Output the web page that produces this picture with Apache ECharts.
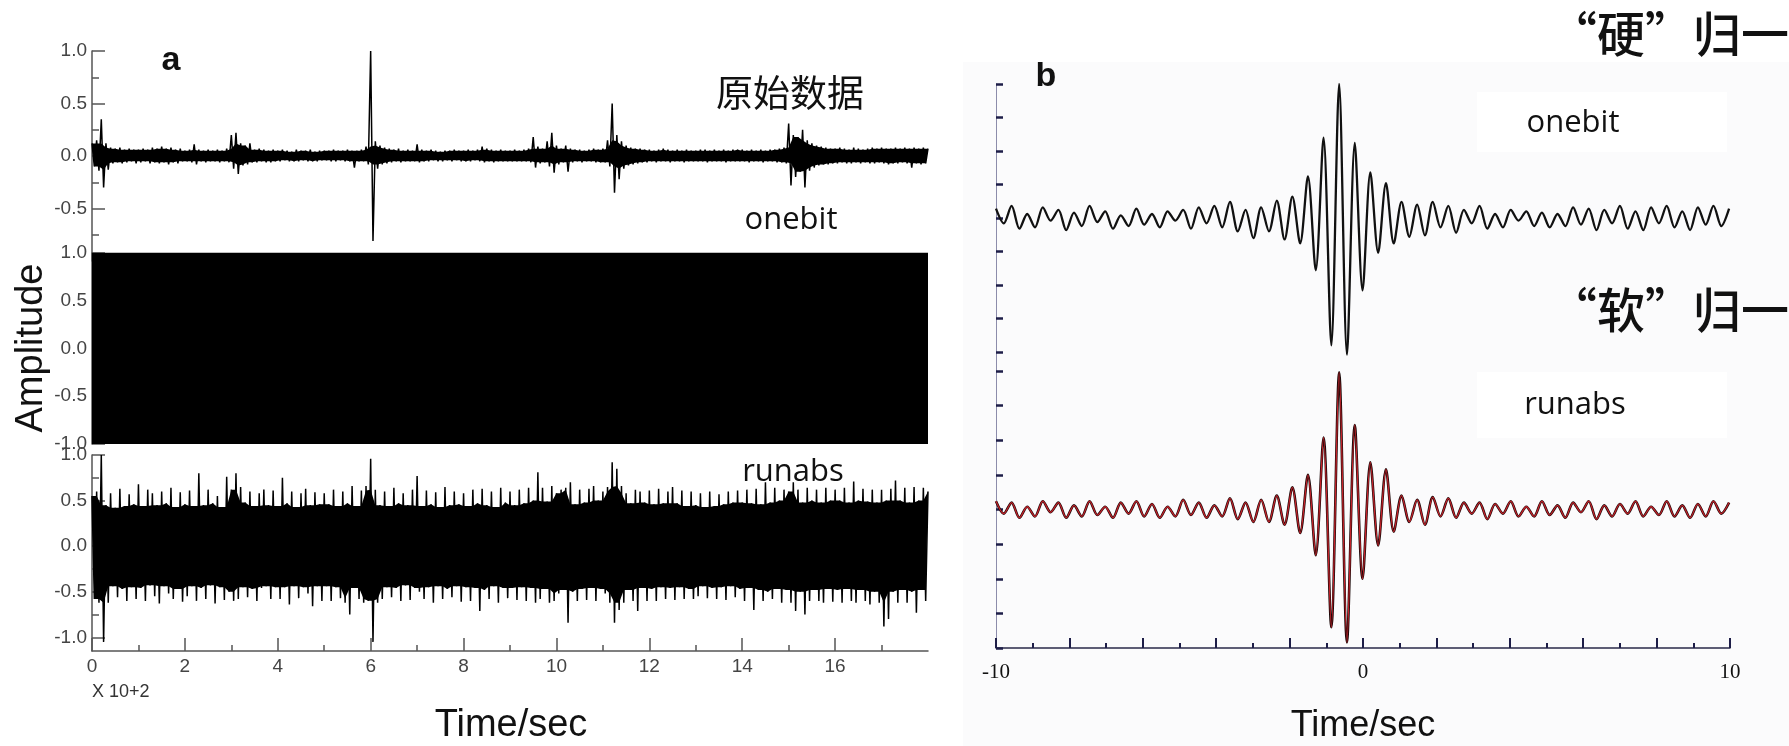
<!DOCTYPE html>
<html><head><meta charset="utf-8">
<script src="https://cdn.jsdelivr.net/npm/echarts@6/dist/echarts.min.js"></script>
<style>html,body{margin:0;padding:0;background:#fff}#c{width:1789px;height:746px}</style>
</head><body><div id="c"></div>
<script>
// ---------- Panel a : time in units of 100 s ("X 10+2"), one value per 5 s, alternating upper / lower excursion ----------
const aStep = 0.05;
const rawData = [
 .12,-.10,.15,-.14,.35,-.30,.12,-.13,.08,-.07,.07,-.06,.08,-.07,.06,-.06,.07,-.05,.06,-.07,
 .06,-.06,.07,-.05,.06,-.07,.08,-.06,.07,-.07,.09,-.06,.07,-.08,.08,-.06,.06,-.07,.07,-.05,
 .05,-.05,.06,-.06,.11,-.08,.06,-.05,.05,-.06,.06,-.05,.05,-.05,.06,-.06,.05,-.05,.07,-.06,
 .20,-.12,.22,-.17,.12,-.09,.10,-.08,.12,-.06,.06,-.06,.07,-.05,.06,-.06,.05,-.06,.06,-.05,
 .05,-.05,.06,-.04,.05,-.05,.04,-.05,.06,-.05,.05,-.04,.05,-.05,.06,-.05,.04,-.05,.05,-.04,
 .05,-.04,.05,-.05,.06,-.05,.05,-.04,.05,-.05,.06,-.05,.05,-.11,.05,-.05,.06,-.05,.09,-.08,
 1.0,-.81,.14,-.12,.10,-.08,.08,-.07,.07,-.06,.06,-.05,.07,-.06,.05,-.05,.06,-.05,.05,-.05,
 .11,-.06,.06,-.05,.05,-.05,.06,-.04,.05,-.05,.04,-.05,.05,-.04,.05,-.05,.06,-.04,.05,-.05,
 .05,-.05,.06,-.05,.05,-.04,.06,-.05,.09,-.06,.07,-.05,.06,-.06,.05,-.05,.06,-.05,.05,-.05,
 .05,-.05,.06,-.05,.05,-.05,.06,-.05,.07,-.06,.18,-.11,.09,-.07,.07,-.06,.14,-.10,.22,-.16,
 .10,-.08,.07,-.06,.10,-.15,.07,-.06,.06,-.05,.06,-.06,.05,-.05,.06,-.05,.07,-.06,.06,-.06,
 .07,-.06,.15,-.10,.50,-.35,.20,-.22,.14,-.12,.10,-.09,.08,-.08,.07,-.07,.07,-.06,.06,-.06,
 .06,-.05,.05,-.06,.06,-.05,.07,-.05,.06,-.06,.05,-.05,.06,-.05,.05,-.06,.06,-.05,.05,-.05,
 .05,-.05,.06,-.05,.06,-.06,.05,-.05,.06,-.05,.05,-.05,.06,-.06,.05,-.05,.06,-.05,.06,-.05,
 .06,-.05,.05,-.06,.06,-.05,.05,-.05,.06,-.06,.05,-.05,.06,-.05,.06,-.06,.07,-.06,.08,-.07,
 .31,-.28,.20,-.20,.18,-.15,.25,-.30,.15,-.14,.12,-.11,.10,-.09,.09,-.08,.08,-.08,.07,-.07,
 .07,-.07,.08,-.06,.07,-.07,.06,-.07,.08,-.06,.07,-.07,.06,-.06,.07,-.07,.08,-.07,.07,-.06,
 .08,-.07,.07,-.08,.07,-.07,.08,-.07,.07,-.06,.08,-.07,.07,-.11,.08,-.07,.07,-.08,.08,-.07,.07
];
const onebitTimes = [0, 18];
const onebitLevel = [1, 1];
const runabsData = [
 .55,-.58,.60,-.62,1.0,-1.05,.45,-.62,.58,-.44,.42,-.56,.63,-.47,.44,-.60,.57,-.45,.46,-.58,
 .68,-.46,.44,-.60,.62,-.43,.58,-.55,.45,-.63,.60,-.44,.47,-.52,.64,-.58,.43,-.47,.59,-.61,
 .46,-.55,.61,-.44,.44,-.60,.80,-.46,.45,-.58,.62,-.43,.47,-.63,.55,-.45,.43,-.59,.76,-.50,
 .62,-.60,.80,-.58,.65,-.45,.48,-.56,.60,-.47,.44,-.60,.58,-.46,.62,-.44,.45,-.58,.61,-.45,
 .44,-.58,.75,-.45,.47,-.64,.60,-.44,.43,-.57,.58,-.45,.63,-.52,.45,-.66,.59,-.44,.46,-.60,
 .58,-.44,.46,-.60,.62,-.45,.44,-.57,.60,-.62,.47,-.75,.66,-.46,.44,-.58,.61,-.62,.66,-.60,
 .96,-1.05,.62,-.62,.45,-.58,.60,-.45,.44,-.56,.64,-.46,.47,-.60,.58,-.43,.45,-.59,.62,-.46,
 .77,-.50,.44,-.58,.61,-.45,.46,-.62,.59,-.44,.43,-.58,.65,-.47,.45,-.56,.60,-.44,.46,-.61,
 .58,-.45,.44,-.60,.62,-.46,.47,-.71,.63,-.48,.45,-.58,.60,-.44,.43,-.62,.64,-.46,.48,-.57,
 .60,-.46,.45,-.59,.62,-.45,.47,-.60,.64,-.46,.50,-.62,.81,-.58,.64,-.47,.49,-.62,.66,-.60,
 .58,-.52,.62,-.48,.64,-.84,.70,-.50,.46,-.60,.62,-.47,.48,-.59,.63,-.46,.66,-.60,.50,-.47,
 .60,-.52,.65,-.62,.92,-.84,.85,-.70,.66,-.62,.58,-.48,.47,-.60,.62,-.71,.60,-.46,.48,-.60,
 .61,-.47,.46,-.60,.63,-.45,.47,-.58,.60,-.46,.65,-.59,.47,-.45,.61,-.58,.44,-.47,.60,-.58,
 .45,-.55,.58,-.44,.43,-.57,.60,-.46,.44,-.58,.57,-.45,.46,-.59,.60,-.44,.48,-.56,.61,-.47,
 .48,-.60,.62,-.46,.47,-.70,.63,-.48,.46,-.60,.70,-.50,.48,-.58,.64,-.47,.50,-.62,.62,-.48,
 .60,-.62,.70,-.71,.62,-.50,.48,-.75,.64,-.60,.50,-.48,.62,-.60,.48,-.62,.64,-.47,.50,-.61,
 .62,-.48,.50,-.62,.64,-.47,.48,-.60,.71,-.62,.50,-.48,.63,-.60,.49,-.64,.62,-.50,.48,-.62,
 .62,-.88,.50,-.80,.63,-.50,.72,-.62,.50,-.48,.64,-.62,.48,-.50,.65,-.73,.50,-.48,.64,-.60,.60
];
const aYMajor = [-1, -0.5, 0, 0.5, 1];
const aYMinor = [-0.75, -0.25, 0.25, 0.75];
const aTopLabels = [-0.5, 0, 0.5, 1];
const aXMajor = [0, 2, 4, 6, 8, 10, 12, 14, 16];
const aXMinor = [1, 3, 5, 7, 9, 11, 13, 15, 17];

// ---------- Panel b : lag time in s, one value per 0.2125 s (successive peaks / troughs) ----------
const bStart = -10, bStep = 0.2125;
const bOnebit = [
 .07,-.04,.09,-.08,.03,-.07,.08,-.02,.06,-.09,
 .04,-.06,.09,-.03,.05,-.08,.02,-.06,.07,-.05,
 .03,-.07,.05,-.02,.06,-.08,.08,-.04,.09,-.07,
 .12,-.10,.06,-.15,
 .08,-.10,.13,-.16,.16,-.19,.31,-.39,.60,-.95,1.0,-1.02,.56,-.54,.34,-.26,.26,-.19,.12,-.14,.10,
 -.13,.12,-.07,.09,-.11,.06,
 -.04,.09,-.08,.03,-.07,.06,-.02,.05,-.06,.04,
 -.07,.03,-.06,.08,-.05,.07,-.09,.06,-.04,.09,
 -.08,.05,-.09,.08,-.04,.09,-.07,.05,-.09,.08,-.05,.09,-.06,.07
];
const bRunabs = [
 .06,-.03,.05,-.06,.02,-.05,.06,-.02,.05,-.06,
 .03,-.05,.06,-.04,.02,-.06,.05,-.03,.06,-.05,
 .04,-.06,.02,-.05,.07,-.04,.05,-.06,.03,-.05,
 .08,-.07,.05,-.09,
 .07,-.09,.10,-.11,.16,-.17,.25,-.33,.52,-.85,.99,-.96,.61,-.50,.34,-.26,.29,-.16,.10,-.09,.07,
 -.11,.09,-.05,.08,-.06,.05,
 -.03,.05,-.07,.04,-.03,.06,-.05,.02,-.05,.06,
 -.04,.03,-.06,.05,-.02,.06,-.07,.03,-.05,.04,
 -.03,.06,-.05,.02,-.04,.06,-.05,.03,-.06,.04,
 -.05,.06,-.03,.05
];
const bYTicks = [-1, -0.75, -0.5, -0.25, 0, 0.25, 0.5, 0.75, 1];
const bXMajor = [-10, -8, -6, -4, -2, 0, 2, 4, 6, 8, 10];
const bXMinor = [-9, -7, -5, -3, -1, 1, 3, 5, 7, 9];
const bXLabels = [-10, 0, 10];

// ---------- chart ----------
const SANS = 'Liberation Sans';
const aGray = '#555';
function aYMajorAxis(g, min, max, labels) {
  return {type:'value', gridIndex:g, min:min, max:max, position:'left',
    axisLine:{show:true, onZero:false, lineStyle:{color:aGray, width:1.5}},
    axisTick:{show:true, inside:true, length:13, customValues:aYMajor, lineStyle:{color:aGray, width:1.5}},
    axisLabel:{show:true, customValues:labels, formatter:v=>Number(v).toFixed(1), color:'#444', fontSize:19, fontFamily:SANS, margin:5},
    splitLine:{show:false}};
}
function aYMinorAxis(g, min, max) {
  return {type:'value', gridIndex:g, min:min, max:max, position:'left',
    axisLine:{show:false, onZero:false}, axisLabel:{show:false}, splitLine:{show:false},
    axisTick:{show:true, inside:true, length:7, customValues:aYMinor, lineStyle:{color:aGray, width:1.5}}};
}
function hiddenX(g, min, max) {
  return {type:'value', gridIndex:g, min:min, max:max, show:false, axisLine:{onZero:false}};
}
const bTickColor = '#1e1e48';
function bYAxis(g, min, max) {
  return {type:'value', gridIndex:g, min:min, max:max, position:'left',
    axisLine:{show:true, onZero:false, lineStyle:{color:'#8c8cab', width:1}},
    axisTick:{show:true, inside:true, length:7, customValues:bYTicks, lineStyle:{color:bTickColor, width:2.5}},
    axisLabel:{show:false}, splitLine:{show:false}};
}
// solid core of a dense trace: polygon through the upper (even) and lower (odd) excursions,
// each limited to the smallest excursion of its neighbours so that isolated spikes stay thin lines
function coreSeries(values, xi, yi) {
  return {type:'custom', xAxisIndex:xi, yAxisIndex:yi, coordinateSystem:'cartesian2d', silent:true, clip:true,
    data:[[0, 0]],
    renderItem:function(params, api) {
      const up = [], lo = [];
      values.forEach((v, i) => {
        const a = values[i-2] !== undefined ? values[i-2] : v;
        const b = values[i+2] !== undefined ? values[i+2] : v;
        const core = i % 2 === 0 ? Math.min(a, v, b) : Math.max(a, v, b);
        const p = api.coord([i*aStep, core]);
        (i % 2 === 0 ? up : lo).push(p);
      });
      return {type:'polygon', shape:{points:up.concat(lo.reverse())}, style:{fill:'#000'}};
    }};
}

const option = {
  animation:false,
  backgroundColor:'#fff',
  grid:[
    {left:92, top:51, width:836, height:210},
    {left:92, top:253, width:836, height:191},
    {left:92, top:455, width:836, height:196},
    {left:996, top:84, width:734, height:301.5},
    {left:996, top:371, width:734, height:277}
  ],
  xAxis:[
    hiddenX(0, 0, 18),
    hiddenX(1, 0, 18),
    {type:'value', gridIndex:2, min:0, max:18, position:'bottom',
      axisLine:{show:true, onZero:false, lineStyle:{color:aGray, width:1.5}},
      axisTick:{show:true, inside:true, length:13, customValues:aXMajor, lineStyle:{color:aGray, width:1.5}},
      axisLabel:{show:true, customValues:aXMajor, color:'#444', fontSize:19, fontFamily:SANS, margin:6},
      splitLine:{show:false}},
    {type:'value', gridIndex:2, min:0, max:18, position:'bottom',
      axisLine:{show:false, onZero:false}, axisLabel:{show:false}, splitLine:{show:false},
      axisTick:{show:true, inside:true, length:6, customValues:aXMinor, lineStyle:{color:aGray, width:1.5}}},
    hiddenX(3, -10, 10),
    {type:'value', gridIndex:4, min:-10, max:10, position:'bottom',
      axisLine:{show:true, onZero:false, lineStyle:{color:'#2a2a48', width:1.5}},
      axisTick:{show:true, inside:true, length:10, customValues:bXMajor, lineStyle:{color:bTickColor, width:2}},
      axisLabel:{show:true, customValues:bXLabels, formatter:v=>String(v), color:'#111', fontSize:21, fontFamily:'Liberation Serif', margin:14},
      splitLine:{show:false}},
    {type:'value', gridIndex:4, min:-10, max:10, position:'bottom',
      axisLine:{show:false, onZero:false}, axisLabel:{show:false}, splitLine:{show:false},
      axisTick:{show:true, inside:true, length:5, customValues:bXMinor, lineStyle:{color:bTickColor, width:2}}}
  ],
  yAxis:[
    aYMajorAxis(0, -1, 1, aTopLabels),
    aYMinorAxis(0, -1, 1),
    aYMajorAxis(1, -1, 1, aYMajor),
    aYMinorAxis(1, -1, 1),
    aYMajorAxis(2, -1.15, 1, aYMajor),
    aYMinorAxis(2, -1.15, 1),
    bYAxis(3, -1.25, 1),
    bYAxis(4, -1, 1)
  ],
  series:[
    coreSeries(rawData, 0, 0),
    {name:'原始数据', type:'line', xAxisIndex:0, yAxisIndex:0, symbol:'none',
      data:rawData.map((v,i)=>[i*aStep, v]), lineStyle:{color:'#000', width:1.5}},
    {name:'onebit', type:'line', xAxisIndex:1, yAxisIndex:2, symbol:'none',
      data:onebitTimes.map((t,i)=>[t, onebitLevel[i]]), lineStyle:{color:'#000', width:1},
      areaStyle:{color:'#000', opacity:1, origin:'start'}},
    coreSeries(runabsData, 2, 4),
    {name:'runabs', type:'line', xAxisIndex:2, yAxisIndex:4, symbol:'none',
      data:runabsData.map((v,i)=>[i*aStep, v]), lineStyle:{color:'#000', width:1.5}},
    {name:'onebit-b', type:'line', xAxisIndex:4, yAxisIndex:6, symbol:'none', smooth:0.3,
      data:bOnebit.map((v,i)=>[bStart+i*bStep, v]), lineStyle:{color:'#111', width:2.3}},
    {name:'runabs-b-edge', type:'line', xAxisIndex:5, yAxisIndex:7, symbol:'none', smooth:0.3,
      data:bRunabs.map((v,i)=>[bStart+i*bStep, v]), lineStyle:{color:'#1a0808', width:2.6}},
    {name:'runabs-b', type:'line', xAxisIndex:5, yAxisIndex:7, symbol:'none', smooth:0.3,
      data:bRunabs.map((v,i)=>[bStart+i*bStep, v]), lineStyle:{color:'#c4222a', width:1.3}}
  ],
  graphic:[
    {type:'rect', z:-5, shape:{x:963, y:62, width:826, height:684}, style:{fill:'#fbfbfc'}},
    {type:'rect', z:-4, shape:{x:1477, y:92, width:250, height:60}, style:{fill:'#ffffff'}},
    {type:'rect', z:-4, shape:{x:1477, y:372, width:250, height:66}, style:{fill:'#ffffff'}},
    txt('a', 171, 61, 'bold 34px "Liberation Sans"', 'center'),
    txt('b', 1046, 77, 'bold 34px "Liberation Sans"', 'center'),
    txt('原始数据', 790, 93, '37px "Noto Sans CJK SC"', 'center'),
    txt('onebit', 791, 220, '31px "Open Sans"', 'center'),
    txt('runabs', 793, 472, '31px "Open Sans"', 'center'),
    txt('onebit', 1573, 123, '31px "Open Sans"', 'center'),
    txt('runabs', 1575, 405, '31px "Open Sans"', 'center'),
    txt('“硬”归一', 1789, 34, '500 48px "Noto Sans CJK SC"', 'right'),
    txt('“软”归一', 1789, 310, '500 48px "Noto Sans CJK SC"', 'right'),
    txt('Time/sec', 511, 726, '38px "Liberation Sans"', 'center'),
    txt('Time/sec', 1363, 726, '36px "Liberation Sans Narrow", "Liberation Sans"', 'center'),
    txt('X 10+2', 92, 692, '18px "Liberation Sans"', 'left', '#333'),
    Object.assign(txt('Amplitude', 32, 348, '38px "Liberation Sans"', 'center'), {rotation:Math.PI/2})
  ]
};
function txt(s, x, y, font, align, color) {
  return {type:'text', z:20, x:x, y:y,
    style:{text:s, font:font, fill:color||'#111', align:align, verticalAlign:'middle', textAlign:align, textVerticalAlign:'middle'}};
}
const chart = echarts.init(document.getElementById('c'), null, {renderer:'canvas'});
chart.setOption(option);
</script>
</body></html>
